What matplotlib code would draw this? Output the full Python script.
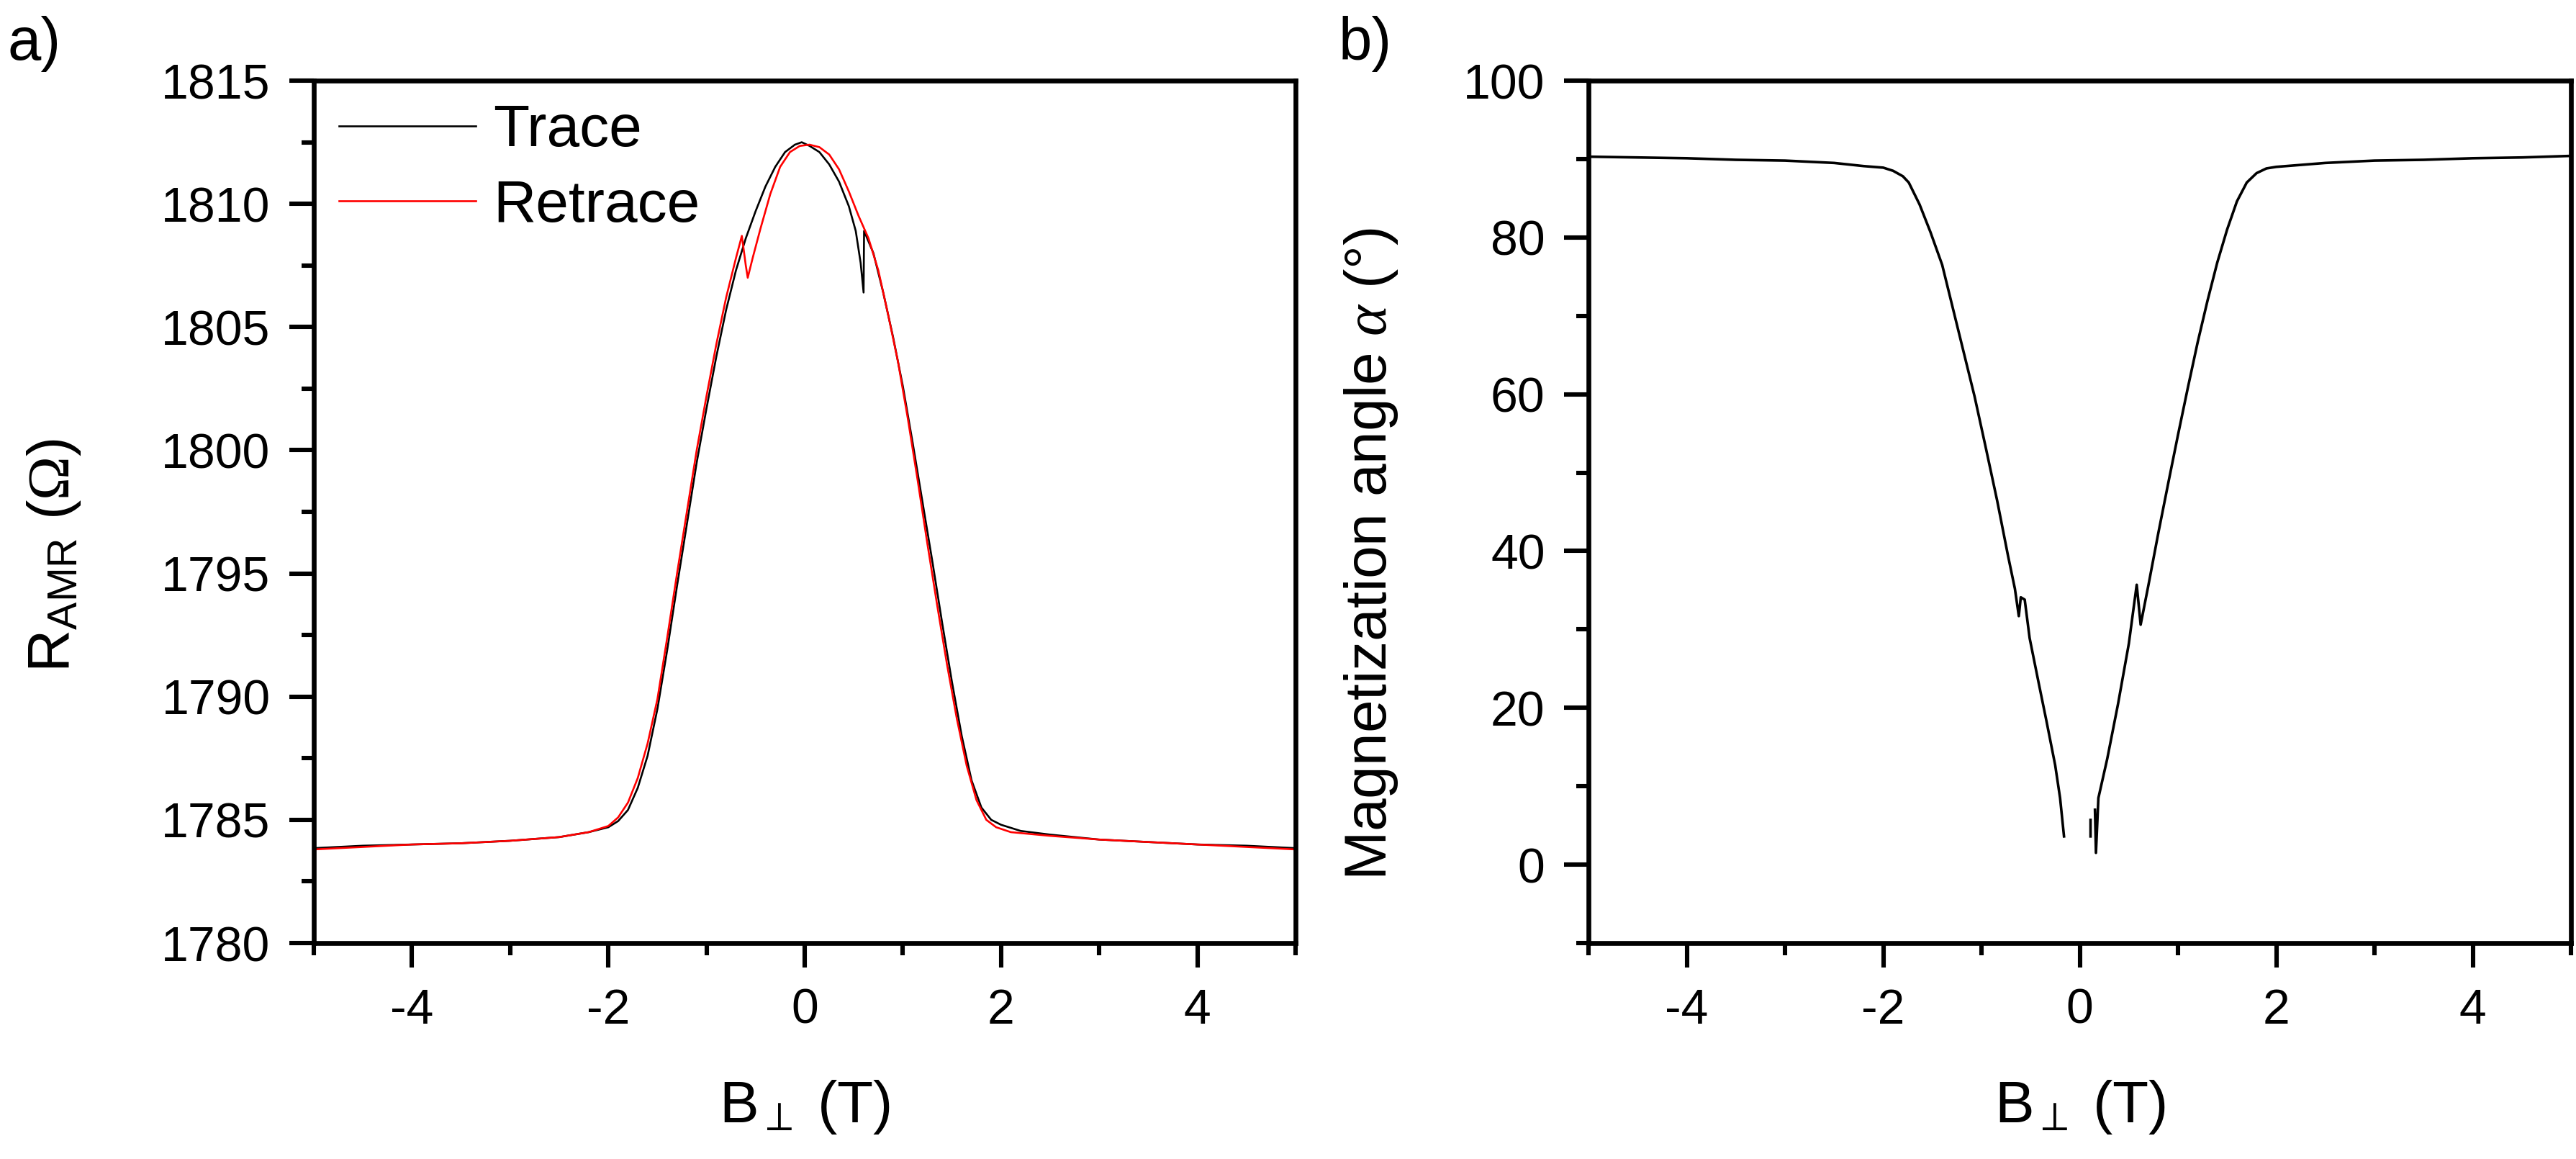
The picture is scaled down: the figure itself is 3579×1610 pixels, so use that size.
# AMR trace/retrace and magnetization angle vs perpendicular field

import numpy as np
import matplotlib
matplotlib.use("Agg")
import matplotlib.pyplot as plt
from matplotlib.ticker import AutoMinorLocator

plt.rcParams['font.family'] = ['Liberation Sans', 'DejaVu Sans']
plt.rcParams['axes.unicode_minus'] = False
plt.rcParams['mathtext.fontset'] = 'custom'
plt.rcParams['mathtext.rm'] = 'Liberation Sans'
plt.rcParams['mathtext.it'] = 'Liberation Serif:italic'
# serif Omega like in the original, borrowed through \mathbf
plt.rcParams['mathtext.bf'] = 'Liberation Serif'

# panel a) - resistance, trace (black)
trace_B = [-5.0, -4.5, -4.0, -3.5, -3.0, -2.5, -2.2, -2.0, -1.9, -1.8, -1.7, -1.6,
           -1.5, -1.4, -1.3, -1.2, -1.1, -1.0, -0.9, -0.8, -0.7, -0.6, -0.5, -0.4,
           -0.3, -0.2, -0.1, -0.03, 0.05, 0.15, 0.25, 0.35, 0.45, 0.52, 0.57, 0.60,
           0.605, 0.7, 0.8, 0.9, 1.0, 1.1, 1.2, 1.3, 1.4, 1.5, 1.6, 1.7, 1.8, 1.9,
           2.0, 2.2, 2.5, 3.0, 3.5, 4.0, 4.5, 5.0]
trace_R = [1783.85, 1783.95, 1784.0, 1784.05, 1784.15, 1784.3, 1784.5, 1784.7, 1784.95,
           1785.4, 1786.3, 1787.6, 1789.5, 1791.9, 1794.5, 1797.0, 1799.5, 1801.7,
           1803.8, 1805.7, 1807.3, 1808.6, 1809.7, 1810.7, 1811.5, 1812.1, 1812.4,
           1812.5, 1812.35, 1812.1, 1811.6, 1810.9, 1809.9, 1808.9, 1807.6, 1806.4,
           1808.9, 1808.0, 1806.4, 1804.6, 1802.6, 1800.3, 1797.9, 1795.5, 1793.0,
           1790.6, 1788.4, 1786.6, 1785.5, 1785.0, 1784.8, 1784.55, 1784.4, 1784.2,
           1784.1, 1784.0, 1783.95, 1783.85]

# panel a) - resistance, retrace (red)
retrace_B = [-5.0, -4.5, -4.0, -3.5, -3.0, -2.5, -2.2, -2.0, -1.9, -1.8, -1.7, -1.6,
             -1.5, -1.4, -1.3, -1.2, -1.1, -1.0, -0.9, -0.8, -0.7, -0.64, -0.6, -0.58,
             -0.53, -0.45, -0.35, -0.25, -0.15, -0.05, 0.05, 0.15, 0.25, 0.35, 0.45,
             0.55, 0.65, 0.75, 0.85, 0.95, 1.05, 1.15, 1.25, 1.35, 1.45, 1.55, 1.65,
             1.75, 1.85, 1.95, 2.1, 2.5, 3.0, 3.5, 4.0, 4.5, 5.0]
retrace_R = [1783.8, 1783.9, 1784.0, 1784.05, 1784.15, 1784.3, 1784.5, 1784.75, 1785.1,
             1785.7, 1786.7, 1788.1, 1789.9, 1792.4, 1795.0, 1797.5, 1800.0, 1802.2,
             1804.3, 1806.2, 1807.8, 1808.7, 1807.5, 1807.0, 1807.8, 1809.0, 1810.4,
             1811.5, 1812.1, 1812.35, 1812.4, 1812.3, 1812.0, 1811.4, 1810.5, 1809.5,
             1808.6, 1807.3, 1805.5, 1803.6, 1801.3, 1798.8, 1796.2, 1793.7, 1791.3,
             1789.1, 1787.2, 1785.8, 1785.0, 1784.7, 1784.5, 1784.35, 1784.2, 1784.1,
             1784.0, 1783.9, 1783.8]

# panel b) - magnetization angle (nan = gap in the measured curve)
angle_B = [-5.0, -4.5, -4.0, -3.5, -3.0, -2.5, -2.2, -2.0, -1.9, -1.8, -1.74, -1.63,
           -1.52, -1.40, -1.29, -1.18, -1.07, -0.96, -0.84, -0.73, -0.66, -0.62, -0.60,
           -0.56, -0.51, -0.42, -0.34, -0.25, -0.20, -0.16, np.nan, 0.11, 0.11, np.nan,
           0.155, 0.165, 0.19, 0.28, 0.39, 0.5, 0.58, 0.62, 0.7, 0.8, 0.9, 1.0, 1.1,
           1.2, 1.3, 1.4, 1.5, 1.6, 1.7, 1.8, 1.9, 2.0, 2.5, 3.0, 3.5, 4.0, 4.5, 5.0]
angle_deg = [90.3, 90.2, 90.1, 89.9, 89.8, 89.5, 89.1, 88.9, 88.5, 87.8, 87.0, 84.2,
             80.7, 76.5, 70.9, 65.3, 59.7, 53.4, 46.4, 39.4, 35.2, 31.7, 34.1,
             33.8, 28.9, 23.3, 18.4, 12.7, 8.5, 3.6, np.nan, 5.7, 3.6, np.nan,
             7.0, 1.5, 8.5, 13.5, 20.5, 28.2, 35.7, 30.6, 35.7, 42.3, 48.6, 54.8, 60.8,
             66.6, 71.9, 76.8, 81.0, 84.6, 87.0, 88.2, 88.8, 89.0, 89.5, 89.8, 89.9,
             90.1, 90.2, 90.4]

x_ticks = [-4, -2, 0, 2, 4]
r_ticks = [1780, 1785, 1790, 1795, 1800, 1805, 1810, 1815]
a_ticks = [0, 20, 40, 60, 80, 100]

W, H = 3579, 1610
fig = plt.figure(figsize=(W / 100, H / 100), dpi=100)

ax1 = fig.add_axes([436 / W, 1 - 1310 / H, 1364 / W, 1198 / H])
ax2 = fig.add_axes([2207 / W, 1 - 1310 / H, 1365 / W, 1198 / H])

ax1.plot(trace_B, trace_R, color='black', lw=1.9, label='Trace')
ax1.plot(retrace_B, retrace_R, color='red', lw=1.9, label='Retrace')
ax2.plot(angle_B, angle_deg, color='black', lw=2.6)

ax1.set_xlim(-5, 5)
ax1.set_ylim(1780, 1815)
ax1.set_yticks(r_ticks)
ax2.set_xlim(-5, 5)
ax2.set_ylim(-10, 100)
ax2.set_yticks(a_ticks)

for ax in (ax1, ax2):
    ax.set_xticks(x_ticks)
    ax.xaxis.set_minor_locator(AutoMinorLocator(2))
    ax.yaxis.set_minor_locator(AutoMinorLocator(2))
    for s in ax.spines.values():
        s.set_linewidth(4.8)
    ax.tick_params(which='both', direction='out', width=4.4, top=False, right=False)
    ax.tick_params(which='major', length=24.5, labelsize=49)
    ax.tick_params(which='minor', length=12.2)
    ax.tick_params(axis='x', which='major', pad=20)
    ax.tick_params(axis='y', which='major', pad=19)

ax1.legend(loc='upper left', bbox_to_anchor=((471 - 436) / 1364, 0.973),
           frameon=False, fontsize=59, handlelength=2.32, handletextpad=0.29,
           labelspacing=0.35, borderpad=0, borderaxespad=0)

# axis titles
fig.text(1118 / W, 1 - 1559 / H, r'B$_{\perp}$ (T)', fontsize=59,
         ha='center', va='baseline')
fig.text(2890 / W, 1 - 1559 / H, r'B$_{\perp}$ (T)', fontsize=59,
         ha='center', va='baseline')
fig.text(75 / W, 1 - 772 / H, r'R$_{\mathrm{AMR}}$ ($\mathbf{\Omega}$)', fontsize=59,
         rotation=90, ha='center', va='center')
fig.text(1905 / W, 1 - 770 / H, r'Magnetization angle $\alpha$ (°)', fontsize=59,
         rotation=90, ha='center', va='center')

# panel letters
fig.text(11 / W, 1 - 83 / H, 'a)', fontsize=60, ha='left', va='baseline')
fig.text(1860 / W, 1 - 83 / H, 'b)', fontsize=60, ha='left', va='baseline')

fig.savefig('out.png', dpi=100)
